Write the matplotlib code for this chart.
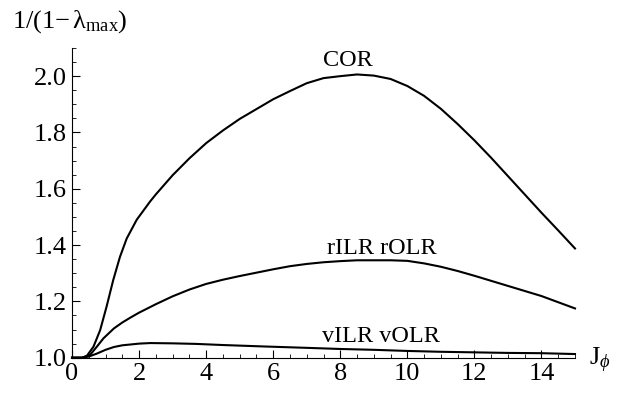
import matplotlib
matplotlib.use("Agg")
import matplotlib.pyplot as plt
from matplotlib.ticker import MultipleLocator, FixedLocator

plt.rcParams['font.family'] = ['Liberation Serif', 'DejaVu Serif']
plt.rcParams['mathtext.fontset'] = 'custom'
plt.rcParams['mathtext.rm'] = 'Liberation Serif'
plt.rcParams['mathtext.it'] = 'Liberation Serif:italic'

# ---- data ----
x_cor = [0, 0.3, 0.44, 0.64, 0.84, 1.03, 1.23, 1.43, 1.63, 1.93, 2.33, 2.5, 3, 3.5, 4, 4.5,
         5, 5.5, 6, 6.5, 7, 7.5, 8, 8.5, 9, 9.5, 10, 10.5, 11, 11.5, 12, 12.5, 13, 13.5,
         14, 14.5, 15]
y_cor = [1.0, 1.0, 1.006, 1.039, 1.098, 1.181, 1.276, 1.358, 1.423, 1.49, 1.555, 1.58,
         1.648, 1.708, 1.762, 1.807, 1.848, 1.883, 1.918, 1.947, 1.975, 1.993, 2.0, 2.006,
         2.002, 1.99, 1.965, 1.93, 1.884, 1.83, 1.772, 1.71, 1.645, 1.58, 1.515, 1.452,
         1.388]

x_r = [0, 0.3, 0.54, 0.74, 0.94, 1.25, 1.5, 1.75, 2, 2.5, 3, 3.5, 4, 4.5, 5, 5.5, 6, 6.5,
       7, 7.5, 8, 8.5, 9, 9.5, 10, 10.5, 11, 11.5, 12, 12.5, 13, 13.5, 14, 14.5, 15]
y_r = [1.0, 1.0, 1.01, 1.039, 1.069, 1.104, 1.125, 1.143, 1.16, 1.19, 1.218, 1.242, 1.262,
       1.277, 1.29, 1.302, 1.314, 1.325, 1.333, 1.339, 1.343, 1.346, 1.346, 1.346, 1.344,
       1.335, 1.323, 1.308, 1.291, 1.273, 1.255, 1.237, 1.219, 1.197, 1.175]

x_v = [0, 0.3, 0.5, 0.75, 1, 1.25, 1.5, 1.75, 2, 2.33, 3, 3.7, 4.5, 5.7, 7, 8, 9, 10, 11,
       12, 13, 14, 15]
y_v = [1.0, 1.0, 1.004, 1.015, 1.028, 1.038, 1.044, 1.047, 1.05, 1.052, 1.051, 1.049,
       1.045, 1.04, 1.035, 1.031, 1.028, 1.024, 1.021, 1.019, 1.017, 1.016, 1.013]

labels = ["COR", "rILR rOLR", "vILR vOLR"]
label_pos = [(8.24, 2.056), (9.25, 1.389), (9.22, 1.077)]

xticks = [0, 2, 4, 6, 8, 10, 12, 14]
yticks = [1.0, 1.2, 1.4, 1.6, 1.8, 2.0]

# ---- figure ----
W, H = 622, 393
fig = plt.figure(figsize=(W / 100, H / 100), dpi=100)
ax = fig.add_axes([72 / W, 1 - 357.7 / H, (575 - 72) / W, (357.7 - 48) / H])

for xs, ys in [(x_cor, y_cor), (x_r, y_r), (x_v, y_v)]:
    ax.plot(xs, ys, color='black', lw=1.5, clip_on=False, solid_joinstyle='round')

for t, (lx, ly) in zip(labels, label_pos):
    ax.text(lx, ly, t, ha='center', va='center', fontsize=17.5)

ax.set_xlim(0, 15)
ax.set_ylim(1.0, 2.1)
ax.spines['top'].set_visible(False)
ax.spines['right'].set_visible(False)
for s in ['left', 'bottom']:
    ax.spines[s].set_linewidth(0.8)

ax.xaxis.set_major_locator(FixedLocator(xticks))
ax.xaxis.set_minor_locator(MultipleLocator(0.5))
ax.yaxis.set_major_locator(FixedLocator(yticks))
ax.yaxis.set_minor_locator(MultipleLocator(0.05))
ax.set_xticklabels([str(v) for v in xticks])
ax.set_yticklabels([f"{v:.1f}" for v in yticks])
ax.tick_params(which='major', direction='in', length=5.5, width=0.8, labelsize=19, pad=4)
ax.tick_params(which='minor', direction='in', length=3, width=0.6)

fig.text(12 / W, 1 - 28 / H, r'1/(1$-\,\mathrm{\lambda}_{\mathrm{max}}$)', ha='left',
         va='baseline', fontsize=19)
fig.text(589 / W, 1 - 365 / H, r'J$_{\phi}$', ha='left', va='baseline', fontsize=19)

fig.savefig('out.png', dpi=100)
